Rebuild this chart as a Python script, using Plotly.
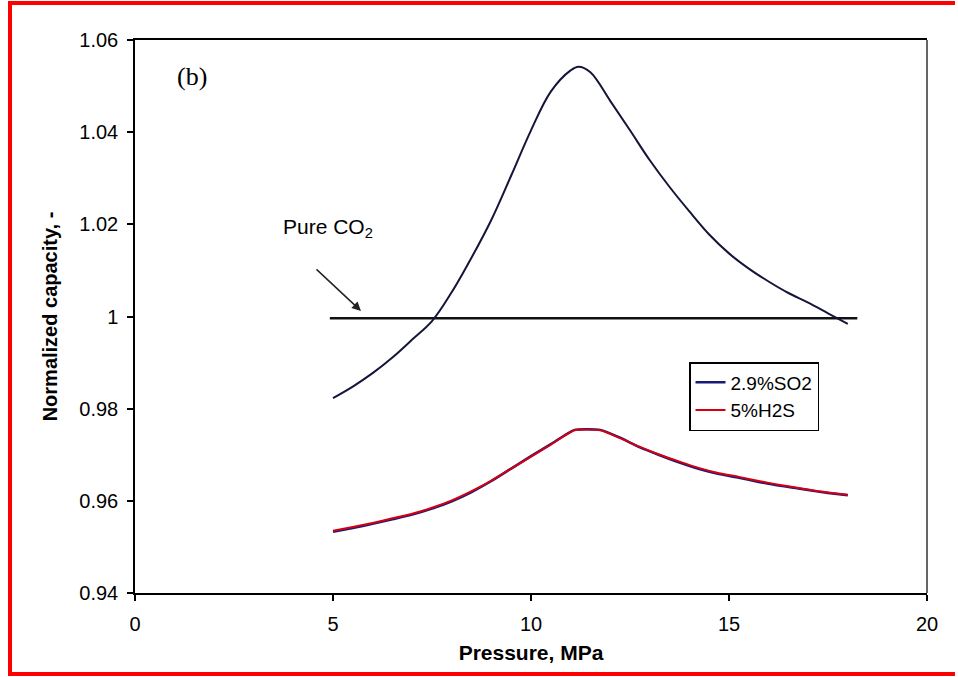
import plotly.graph_objects as go

# ---- data ----
upper_x = [5.0, 5.5, 6.0, 6.5, 7.0, 7.5, 8.0, 8.5, 9.0, 9.5, 10.0, 10.5, 11.0, 11.2, 11.5, 12.0, 12.5, 13.0, 13.5, 14.0, 14.5, 15.0, 15.5, 16.0, 16.5, 17.0, 17.5, 18.0]
upper_y = [0.9823, 0.9848, 0.9877, 0.9911, 0.9950, 0.9990, 1.0053, 1.0128, 1.0210, 1.0306, 1.0404, 1.0488, 1.0534, 1.0542, 1.0530, 1.0468, 1.0404, 1.0339, 1.0281, 1.0228, 1.0178, 1.0137, 1.0104, 1.0076, 1.0051, 1.0030, 1.0007, 0.9984]

low_x = [5.0, 5.5, 6.0, 6.5, 7.0, 7.5, 8.0, 8.5, 9.0, 9.5, 10.0, 10.5, 11.1, 11.75, 12.25, 12.75, 13.25, 13.75, 14.25, 14.75, 15.25, 15.75, 16.25, 16.75, 17.25, 17.5, 18.0]
h2s_y = [0.9535, 0.9543, 0.9552, 0.9562, 0.9572, 0.9585, 0.9601, 0.9621, 0.9644, 0.9670, 0.9696, 0.9722, 0.9753, 0.9753, 0.9736, 0.9717, 0.9700, 0.9685, 0.9671, 0.9660, 0.9652, 0.9643, 0.9635, 0.9628, 0.9621, 0.9618, 0.9613]
so2_y = [0.9533, 0.9541, 0.9550, 0.9560, 0.9570, 0.9583, 0.9599, 0.9619, 0.9643, 0.9670, 0.9697, 0.9723, 0.9754, 0.9754, 0.9737, 0.9716, 0.9699, 0.9683, 0.9669, 0.9658, 0.9650, 0.9641, 0.9633, 0.9627, 0.9620, 0.9617, 0.9612]

pure_x = [4.92, 18.24]
pure_y = [0.9996, 0.9996]

x_ticks = [0, 5, 10, 15, 20]
y_ticks = [0.94, 0.96, 0.98, 1.00, 1.02, 1.04, 1.06]
y_tick_text = ["0.94", "0.96", "0.98", "1", "1.02", "1.04", "1.06"]

W, H = 958, 677
L, R, T, B = 135, 927, 40, 593  # plot area in pixels

def px(xp):
    return (xp - L) / (R - L)

def py(yp):
    return (B - yp) / (B - T)

fig = go.Figure()
fig.add_trace(go.Scatter(x=pure_x, y=pure_y, mode="lines",
                         line=dict(color="#111111", width=2.5), showlegend=False))
fig.add_trace(go.Scatter(x=upper_x, y=upper_y, mode="lines", line_shape="spline",
                         line=dict(color="#15153a", width=2, smoothing=1.0), showlegend=False))
fig.add_trace(go.Scatter(x=low_x, y=so2_y, mode="lines", name="2.9%SO2", line_shape="spline",
                         line=dict(color="#1a1a78", width=2.5, smoothing=0.5)))
fig.add_trace(go.Scatter(x=low_x, y=h2s_y, mode="lines", name="5%H2S", line_shape="spline",
                         line=dict(color="#d40012", width=2, smoothing=0.5)))

font = "Liberation Sans, Arial, sans-serif"

fig.update_layout(
    width=W, height=H,
    margin=dict(l=L, r=W - R, t=T, b=H - B),
    paper_bgcolor="white", plot_bgcolor="white",
    font=dict(family=font, color="black", size=20),
    showlegend=True,
    legend=dict(x=px(689), y=py(362), xanchor="left", yanchor="top",
                bgcolor="white", bordercolor="black", borderwidth=1.5,
                font=dict(size=19, family=font), itemwidth=30,
                tracegroupgap=0),
    xaxis=dict(range=[0, 20], tickvals=x_ticks, ticks="outside", ticklen=6,
               tickwidth=1.5, tickcolor="black", showgrid=False, zeroline=False,
               showline=True, linecolor="black", linewidth=1.5, mirror=True,
               tickfont=dict(size=20), ticklabelstandoff=6,
               title=dict(text="<b>Pressure, MPa</b>", font=dict(size=21), standoff=12)),
    yaxis=dict(range=[0.94, 1.06], tickvals=y_ticks, ticktext=y_tick_text,
               ticks="outside", ticklen=6, tickwidth=1.5, tickcolor="black",
               showgrid=False, zeroline=False, showline=True, linecolor="black",
               linewidth=1.5, tickfont=dict(size=20), ticklabelstandoff=5,
               title=dict(text="<b>Normalized capacity, -</b>", font=dict(size=20), standoff=16)),
)

# right border of plot area (grey)
fig.add_shape(type="line", xref="paper", yref="paper", x0=1, x1=1, y0=0, y1=1,
              line=dict(color="#666666", width=2))

# red frame around the figure (top, left, bottom)
red = dict(color="#ff0000", width=4)
fig.add_shape(type="line", xref="paper", yref="paper", x0=px(8), x1=px(955), y0=py(3), y1=py(3), line=red)
fig.add_shape(type="line", xref="paper", yref="paper", x0=px(10), x1=px(10), y0=py(3), y1=py(674), line=red)
fig.add_shape(type="line", xref="paper", yref="paper", x0=px(8), x1=px(955), y0=py(674), y1=py(674), line=red)

# annotations
fig.add_annotation(x=1.44, y=1.052, text="(b)", showarrow=False,
                   font=dict(family="Liberation Serif, Times New Roman, serif", size=26))
fig.add_annotation(x=4.87, y=1.0192, text="Pure CO<sub>2</sub>", showarrow=False,
                   font=dict(size=21))
fig.add_annotation(x=5.707, y=1.0012, ax=-46, ay=-43, text="", showarrow=True,
                   arrowhead=2, arrowsize=1.2, arrowwidth=1.5, arrowcolor="#222222")

fig.write_html("out.html", config={"displayModeBar": False},
               post_script="document.body.style.margin='0';document.body.style.overflow='hidden';")
